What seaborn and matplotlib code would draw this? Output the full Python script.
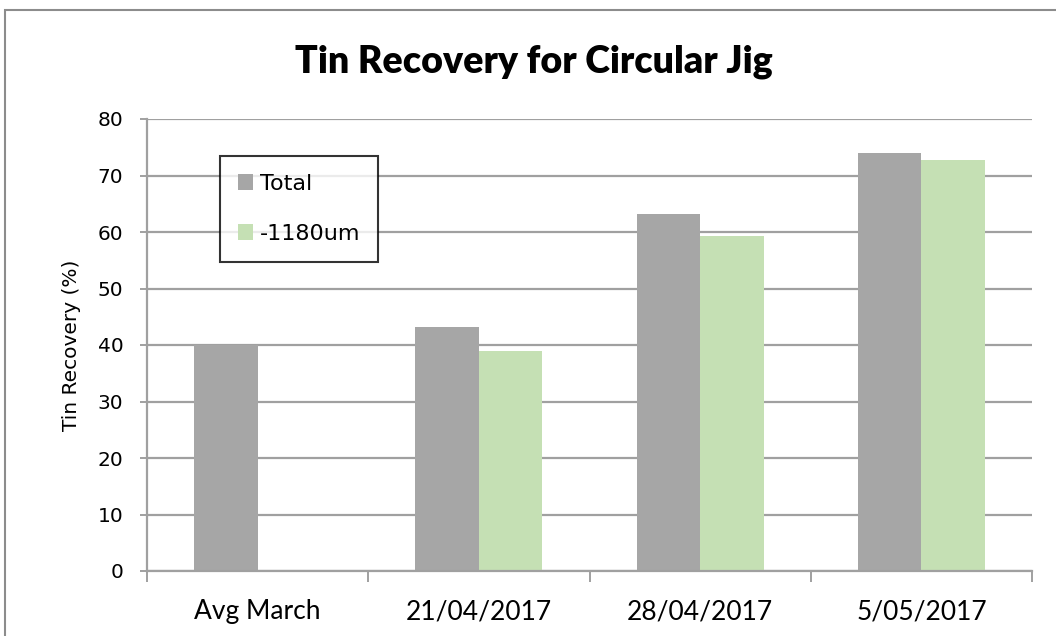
import pandas as pd
import matplotlib.pyplot as plt
import matplotlib.patches as mpatches
import seaborn as sns

dates = ['Avg March', '21/04/2017', '28/04/2017', '5/05/2017']
total = [40.0, 43.2, 63.2, 74.0]
fine = [None, 38.9, 59.3, 72.7]
series = ['Total', '-1180um']
colors = ['#A6A6A6', '#C5E0B4']

df = pd.DataFrame({
    'date': dates * 2,
    'value': total + fine,
    'series': [series[0]] * 4 + [series[1]] * 4,
})

sns.set_style('white')
plt.rcParams['font.family'] = ['DejaVu Sans']
plt.rcParams['text.color'] = 'black'
plt.rcParams['axes.labelcolor'] = 'black'

fig = plt.figure(figsize=(10.56, 6.36), dpi=100)
ax = fig.add_axes([147 / 1056, 1 - 571 / 636, (1032 - 147) / 1056, (571 - 119) / 636])

sns.barplot(data=df, x='date', y='value', hue='series', palette=colors,
            width=0.575, saturation=1, linewidth=0, ax=ax, legend=True)

# outer chart border
fig.patches.append(mpatches.Rectangle((5 / 1056, -0.1), 1.2, 1.1 - 10 / 636,
                                      transform=fig.transFigure, fill=False,
                                      edgecolor='#8C8C8C', linewidth=1.5))

ax.set_ylim(0, 80)
ax.set_xlim(-0.5, 3.5)
ax.set_yticks(range(0, 81, 10))
ax.yaxis.grid(True, color='#A0A0A0', linewidth=1.6)
ax.set_axisbelow(True)
for s in ['top', 'right']:
    ax.spines[s].set_visible(False)
for s in ['left', 'bottom']:
    ax.spines[s].set_color('#A0A0A0')
    ax.spines[s].set_linewidth(1.6)

ax.tick_params(axis='y', which='major', left=True, length=5, width=1.4,
               color='#A0A0A0', labelcolor='black', labelsize=14.5, pad=12)
ax.tick_params(axis='x', which='major', bottom=False, labelcolor='black', pad=17)
for lab in ax.get_xticklabels():
    lab.set_fontfamily('Lato')
    lab.set_fontsize(19)
ax.set_xticks([-0.5, 0.5, 1.5, 2.5, 3.5], minor=True)
ax.tick_params(axis='x', which='minor', bottom=True, length=8, width=1.4,
               color='#A0A0A0')

ax.set_xlabel('')
ax.set_ylabel('Tin Recovery (%)', fontsize=14.5, labelpad=12)
fig.text(0.506, 1 - 62 / 636, 'Tin Recovery for Circular Jig', ha='center', va='center',
         fontsize=27, fontweight='heavy', family='Lato', color='black')

leg = ax.legend(loc='upper left', bbox_to_anchor=(73 / 885, 1 - 37 / 452),
                frameon=True, fancybox=False, fontsize=16, handlelength=0.68,
                handleheight=0.68, labelspacing=1.35, borderpad=0.8,
                handletextpad=0.3, borderaxespad=0)
leg.get_frame().set_edgecolor('black')
leg.get_frame().set_linewidth(1.5)

fig.savefig('out.png', dpi=100)
